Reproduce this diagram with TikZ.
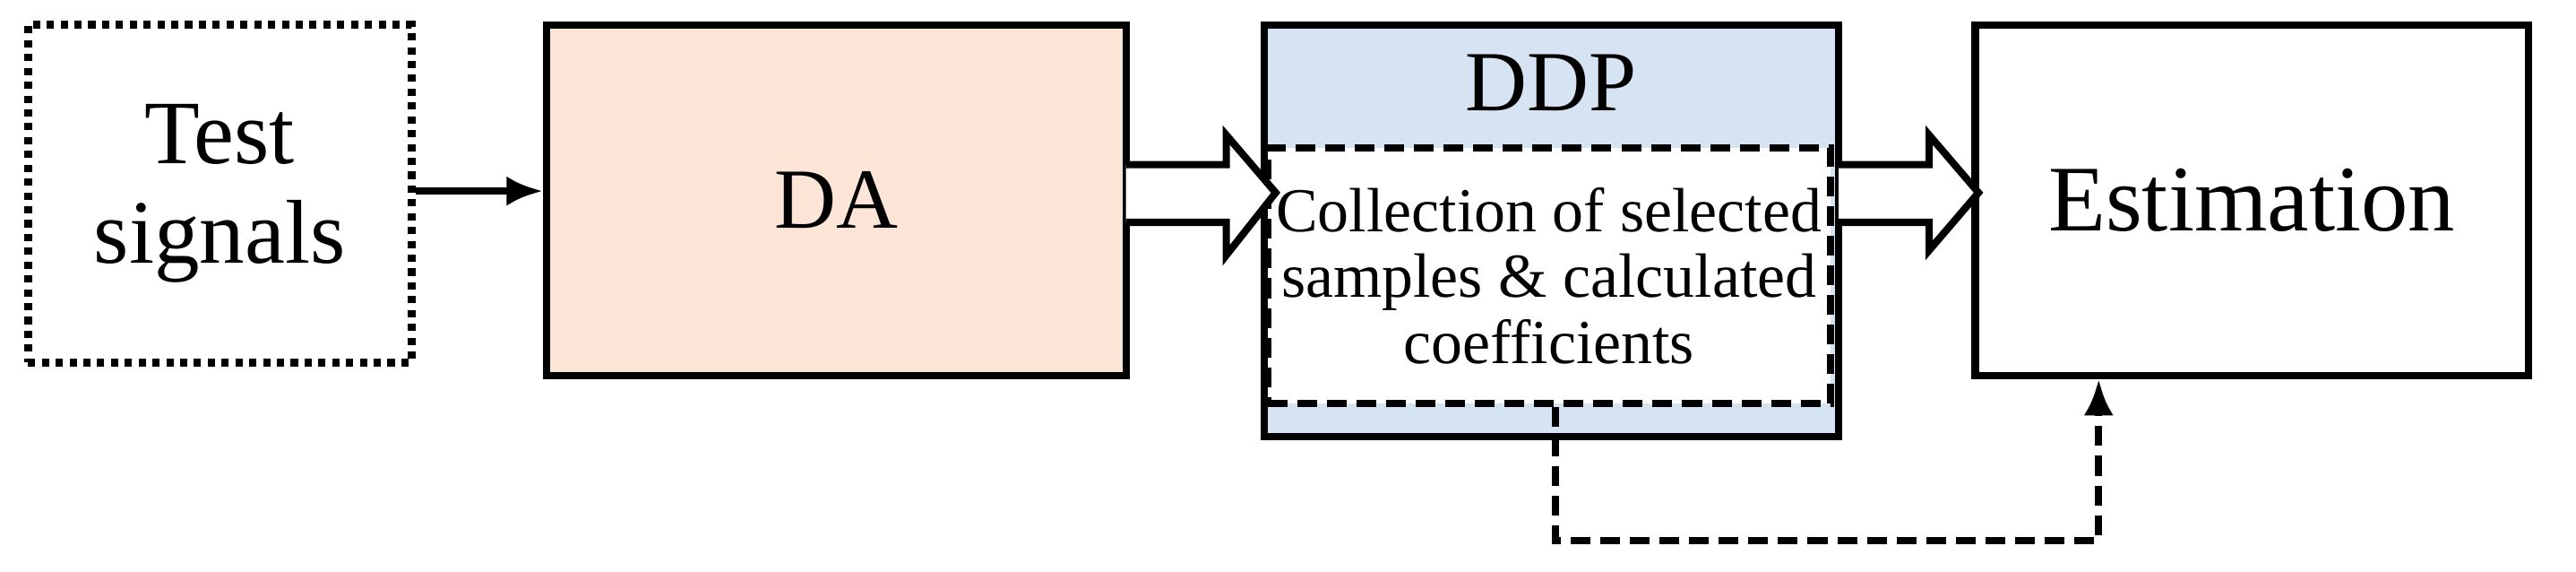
\documentclass[tikz,border=0pt]{standalone}
\usepackage{fontspec}
\setmainfont{Liberation Serif}
\usetikzlibrary{arrows.meta}
\definecolor{peach}{HTML}{FCE4D6}
\definecolor{lblue}{HTML}{D6E3F3}
\begin{document}
\begin{tikzpicture}[x=0.5pt,y=-0.5pt,
  box/.style={draw,line width=2.2pt},
  dsh/.style={dash pattern=on 6pt off 3pt},
  hollow/.style={draw,line width=2.2pt,fill=white,line join=miter}]
\useasboundingbox (0,0) rectangle (1565,347);
\node[box,dotted,line width=2.4pt,minimum width=116.5pt,minimum height=102.5pt,inner sep=0pt,align=center,font=\fontsize{27.5}{30}\selectfont] (ts) at (133.5,117.5) {Test\\signals};
\node[box,fill=peach,minimum width=176pt,minimum height=106.5pt,inner sep=0pt,font=\fontsize{26}{30}\selectfont] (da) at (508,121.5) {DA};
\node[box,fill=lblue,minimum width=174.5pt,minimum height=125pt,inner sep=0pt] (ddp) at (942.5,140) {};
\node[font=\fontsize{26}{30}\selectfont] (ddpt) at (942.5,50) {DDP};
\node[box,dsh,fill=white,minimum width=171pt,minimum height=77.5pt,inner sep=0pt,align=center,font=\fontsize{19}{20}\selectfont] (in) at (941,167.5) {Collection of selected\\samples \& calculated\\coefficients};
\node[box,minimum width=168pt,minimum height=106.5pt,inner sep=0pt,font=\fontsize{28.5}{32}\selectfont] (est) at (1368,121.5) {Estimation};
\draw[line width=2.2pt,-{Latex[length=11pt,width=9pt]}] (ts.east|-0,116) -- (da.west|-0,116);
\draw[hollow] (684,100) -- (745,100) -- (745,82) -- (775,117) -- (745,155) -- (745,135) -- (684,135);
\draw[hollow] (1117,100) -- (1172,100) -- (1172,82) -- (1202,117) -- (1172,152) -- (1172,135) -- (1117,135);
\coordinate (c1) at (945,328);
\coordinate (c2) at (1275,328);
\draw[line width=2.2pt,dsh,-{Latex[length=11pt,width=9pt]}] (in.south-|945,0) -- (c1) -- (c2) -- (est.south-|1275,0);
\end{tikzpicture}
\end{document}
